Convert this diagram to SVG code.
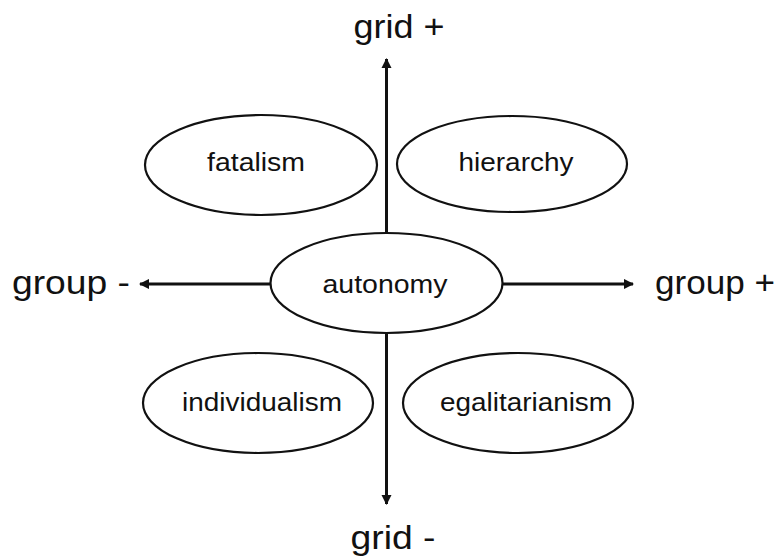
<svg xmlns="http://www.w3.org/2000/svg" width="783" height="558" viewBox="0 0 783 558">
<defs>
<style>
.n{fill:#fff;stroke:#111;stroke-width:2.2}
.t{font-family:"Liberation Sans",Arial,sans-serif;font-size:26px;fill:#111;text-anchor:middle}
.a{font-family:"Liberation Sans",Arial,sans-serif;font-size:33px;fill:#111;text-anchor:middle}
.c{stroke:#111;stroke-width:3;fill:none}
</style>
<marker id="ah" viewBox="0 0 10 10" refX="9" refY="5" markerWidth="3.5" markerHeight="3.5" orient="auto" markerUnits="strokeWidth">
<path d="M0,0 L10,5 L0,10 z" fill="#111"/>
</marker>
</defs>
<rect width="783" height="558" fill="#fff"/>
<g id="connectors">
<line class="c" x1="386.5" y1="233" x2="386.5" y2="59" marker-end="url(#ah)"/>
<line class="c" x1="386.5" y1="333" x2="386.5" y2="504" marker-end="url(#ah)"/>
<line class="c" x1="270" y1="284" x2="140" y2="284" marker-end="url(#ah)"/>
<line class="c" x1="503" y1="284" x2="633" y2="284" marker-end="url(#ah)"/>
</g>
<g id="grid-plus"><text class="a" x="399" y="38" textLength="91" lengthAdjust="spacingAndGlyphs">grid +</text></g>
<g id="grid-minus"><text class="a" x="393" y="549" textLength="85" lengthAdjust="spacingAndGlyphs">grid -</text></g>
<g id="group-minus"><text class="a" x="71" y="294" textLength="118" lengthAdjust="spacingAndGlyphs">group -</text></g>
<g id="group-plus"><text class="a" x="715" y="294" textLength="120" lengthAdjust="spacingAndGlyphs">group +</text></g>
<g id="fatalism">
<ellipse class="n" cx="261" cy="165" rx="116" ry="50"/>
<text class="t" x="256" y="171" textLength="98" lengthAdjust="spacingAndGlyphs">fatalism</text>
</g>
<g id="hierarchy">
<ellipse class="n" cx="512" cy="164" rx="115" ry="48"/>
<text class="t" x="516" y="171" textLength="115" lengthAdjust="spacingAndGlyphs">hierarchy</text>
</g>
<g id="autonomy">
<ellipse class="n" cx="386.5" cy="283" rx="116" ry="50"/>
<text class="t" x="385" y="293" textLength="125" lengthAdjust="spacingAndGlyphs">autonomy</text>
</g>
<g id="individualism">
<ellipse class="n" cx="258" cy="403" rx="115" ry="50"/>
<text class="t" x="262" y="411" textLength="160" lengthAdjust="spacingAndGlyphs">individualism</text>
</g>
<g id="egalitarianism">
<ellipse class="n" cx="518" cy="403" rx="115" ry="50"/>
<text class="t" x="526" y="411" textLength="172" lengthAdjust="spacingAndGlyphs">egalitarianism</text>
</g>
</svg>
